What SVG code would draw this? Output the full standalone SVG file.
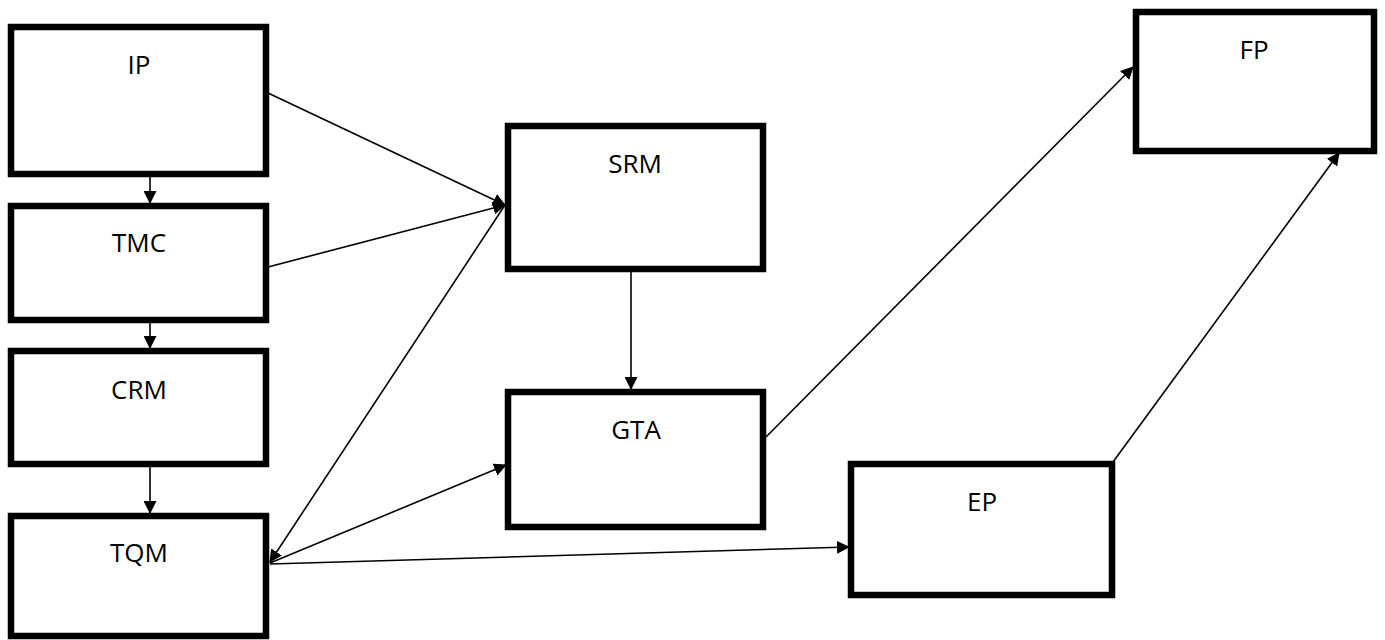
<svg xmlns="http://www.w3.org/2000/svg" width="1385" height="640" viewBox="0 0 1385 640">
<style>
.box{fill:#fff;stroke:#000;stroke-width:6.5}
.lbl{font-family:"Open Sans","Liberation Sans",sans-serif;font-size:26px;fill:#000;text-anchor:middle}
.con{stroke:#000;stroke-width:1.6;fill:none;marker-end:url(#ah)}
</style>
<defs>
<marker id="ah" markerUnits="userSpaceOnUse" markerWidth="13" markerHeight="13" refX="12" refY="6.5" orient="auto" viewBox="0 0 13 13">
<path d="M0,0 L13,6.5 L0,13 z" fill="#000"/>
</marker>
</defs>
<rect width="1385" height="640" fill="#fff"/>
<g id="IP"><rect class="box" x="11" y="27" width="255" height="147"/><text class="lbl" x="139" y="74">IP</text></g>
<g id="TMC"><rect class="box" x="11" y="206" width="255" height="114"/><text class="lbl" x="139" y="252">TMC</text></g>
<g id="CRM"><rect class="box" x="11" y="351" width="255" height="113"/><text class="lbl" x="139" y="399">CRM</text></g>
<g id="TQM"><rect class="box" x="11" y="516" width="255" height="120"/><text class="lbl" x="139" y="562">TQM</text></g>
<g id="SRM"><rect class="box" x="508" y="126" width="255" height="143"/><text class="lbl" x="635" y="173">SRM</text></g>
<g id="GTA"><rect class="box" x="508" y="392" width="255" height="135"/><text class="lbl" x="636" y="439">GTA</text></g>
<g id="EP"><rect class="box" x="851" y="464" width="261" height="131"/><text class="lbl" x="982" y="511">EP</text></g>
<g id="FP"><rect class="box" x="1136" y="12" width="238" height="139"/><text class="lbl" x="1254" y="59">FP</text></g>
<g id="connectors">
<line class="con" x1="150" y1="177" x2="150" y2="203"/>
<line class="con" x1="150" y1="323" x2="150" y2="348"/>
<line class="con" x1="150" y1="467" x2="150" y2="513"/>
<line class="con" x1="268" y1="93" x2="505" y2="205"/>
<line class="con" x1="268" y1="267" x2="505" y2="205"/>
<line class="con" x1="505" y1="205" x2="270" y2="562"/>
<line class="con" x1="631" y1="272" x2="631" y2="389"/>
<line class="con" x1="270" y1="563" x2="506" y2="465"/>
<line class="con" x1="270" y1="564" x2="849" y2="547"/>
<line class="con" x1="766" y1="437" x2="1133" y2="67"/>
<line class="con" x1="1113" y1="462" x2="1339" y2="153"/>
</g>
</svg>
